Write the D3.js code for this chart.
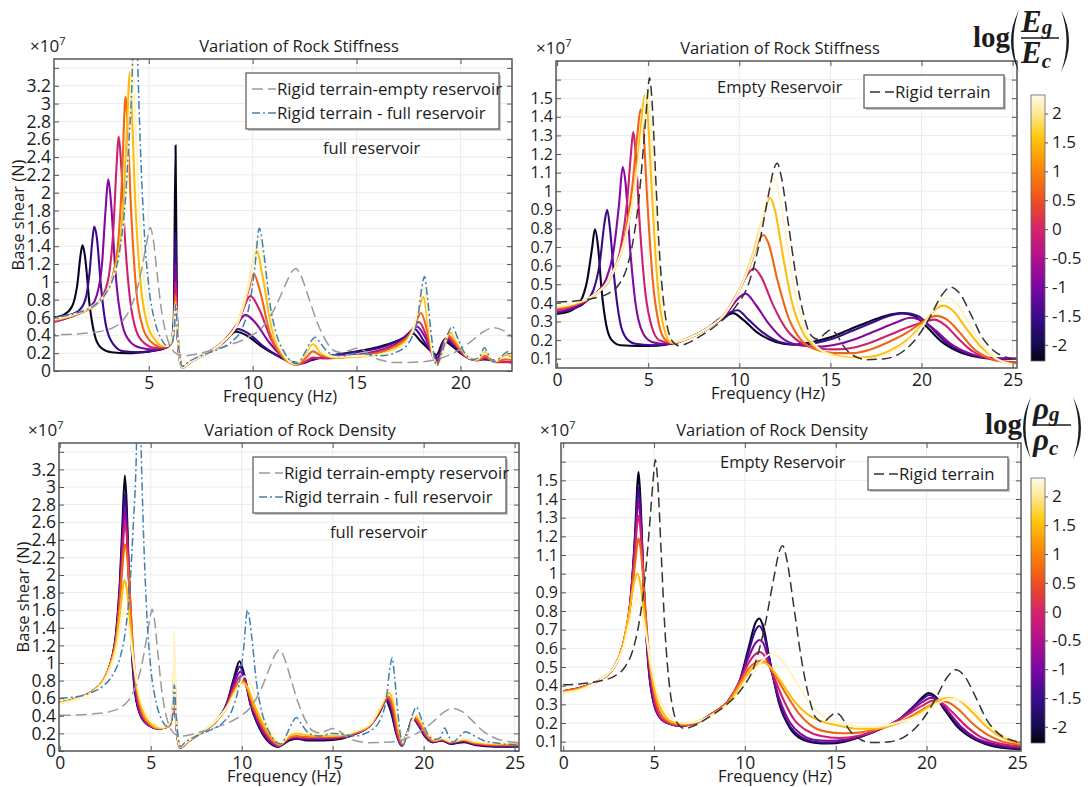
<!DOCTYPE html>
<meta charset="utf-8">
<style>
body { margin: 0; background: #fff; font-family: "Open Sans", sans-serif; }
text { fill: #1c1c1c; }
.tick line { stroke: #555; }
.domain { display: none; }
</style>
<body>
<svg width="1090" height="787"></svg>
<script src="https://d3js.org/d3.v7.min.js"></script>
<script>

// colour levels of the coloured curves (log of the ratio)
var levels = [-2.2, -1.5, -0.9, -0.1, 0.7, 1.5, 2.2];

// colour bar stops
var cbStops = [-2.28, -2.0, -1.5, -1.0, -0.5, 0.0, 0.4, 0.8, 1.2, 1.6, 2.0, 2.32];
var cbColors = ["#05030f", "#140a4e", "#3a0c8c", "#7a07a4", "#b0108e", "#d4246a",
                "#e8462c", "#f4700f", "#fb9a06", "#ffc910", "#fde896", "#fffbe8"];
var cbTicks = [-2, -1.5, -1, -0.5, 0, 0.5, 1, 1.5, 2];

var xTicksTop = [5, 10, 15, 20];
var xTicksAll = [0, 5, 10, 15, 20, 25];
var yTicksFull = [0, 0.2, 0.4, 0.6, 0.8, 1, 1.2, 1.4, 1.6, 1.8, 2, 2.2, 2.4, 2.6, 2.8, 3, 3.2, 3.4];
var yTicksEmpty = [0.1, 0.2, 0.3, 0.4, 0.5, 0.6, 0.7, 0.8, 0.9, 1, 1.1, 1.2, 1.3, 1.4, 1.5, 1.6];

// rigid terrain, empty reservoir  [Hz, x1e7 N]
var rigidEmpty = [[0,0.405],[1,0.41],[2,0.425],[2.8,0.45],[3.4,0.5],[3.8,0.58],[4.2,0.75],[4.5,0.97],[4.75,1.25],[4.95,1.5],[5.07,1.61],[5.2,1.5],[5.4,1.1],[5.6,0.7],[5.85,0.4],[6.1,0.25],[6.4,0.185],[6.7,0.17],[7.2,0.185],[8,0.23],[9,0.3],[9.8,0.38],[10.5,0.5],[11.1,0.72],[11.6,0.98],[11.9,1.12],[12.08,1.15],[12.3,1.08],[12.7,0.82],[13.1,0.55],[13.5,0.35],[13.9,0.23],[14.3,0.205],[14.7,0.235],[15,0.255],[15.3,0.235],[15.7,0.17],[16.2,0.12],[17,0.095],[18,0.1],[19,0.14],[19.8,0.22],[20.5,0.33],[21.1,0.44],[21.6,0.485],[22.1,0.45],[22.7,0.34],[23.3,0.22],[24,0.14],[24.6,0.11],[25.2,0.095]];

// rigid terrain, full reservoir
var rigidFull = [[0,0.6],[1,0.62],[1.8,0.67],[2.4,0.74],[2.9,0.86],[3.3,1.05],[3.6,1.35],[3.85,1.85],[4.05,2.6],[4.2,3.3],[4.32,4.6],[4.45,3.6],[4.6,2.5],[4.8,1.5],[5.0,0.95],[5.3,0.55],[5.6,0.36],[5.9,0.28],[6.1,0.3],[6.22,0.45],[6.3,0.75],[6.38,0.45],[6.5,0.15],[6.62,0.05],[6.9,0.1],[7.5,0.17],[8.3,0.24],[9,0.33],[9.5,0.48],[9.85,0.75],[10.1,1.15],[10.32,1.6],[10.55,1.3],[10.8,0.8],[11.1,0.45],[11.5,0.22],[11.9,0.1],[12.15,0.08],[12.5,0.2],[12.8,0.33],[13,0.38],[13.3,0.3],[13.7,0.2],[14.3,0.17],[15,0.2],[15.5,0.19],[16.2,0.17],[17,0.22],[17.6,0.35],[17.95,0.6],[18.15,0.95],[18.27,1.06],[18.4,0.85],[18.6,0.4],[18.85,0.06],[19.1,0.2],[19.4,0.42],[19.6,0.5],[19.85,0.38],[20.2,0.2],[20.6,0.13],[20.9,0.15],[21.15,0.26],[21.35,0.18],[21.6,0.1],[22,0.17],[22.3,0.22],[22.7,0.18],[23.3,0.12],[24,0.09],[25.2,0.07]];

// stiffness, full reservoir (one list per level)
var stiffFull = [
  [[0.4,0.6],[0.9,0.63],[1.3,0.72],[1.55,0.95],[1.75,1.35],[1.82,1.41],[1.95,1.25],[2.15,0.75],[2.4,0.4],[2.7,0.26],[3.2,0.21],[4,0.2],[5,0.22],[5.7,0.25],[6.05,0.3],[6.2,0.55],[6.29,2.53],[6.36,0.6],[6.5,0.12],[6.62,0.04],[7,0.1],[7.8,0.2],[8.6,0.32],[9.2,0.44],[9.7,0.4],[10.4,0.28],[11.2,0.17],[11.9,0.1],[12.3,0.09],[12.8,0.12],[13.5,0.16],[14.5,0.2],[15.5,0.24],[16.5,0.3],[17.3,0.37],[17.7,0.42],[18.1,0.33],[18.5,0.24],[18.85,0.18],[19.2,0.34],[19.5,0.3],[20,0.2],[20.6,0.13],[21.2,0.13],[21.7,0.11],[22.5,0.1]],
  [[0.4,0.6],[1,0.62],[1.6,0.67],[1.95,0.8],[2.15,1.1],[2.3,1.5],[2.38,1.62],[2.5,1.5],[2.7,0.95],[2.95,0.5],[3.3,0.3],[3.8,0.22],[4.6,0.21],[5.5,0.24],[6.05,0.3],[6.2,0.5],[6.29,1.55],[6.37,0.5],[6.5,0.12],[6.62,0.04],[7,0.1],[7.8,0.2],[8.6,0.33],[9.3,0.47],[9.8,0.42],[10.5,0.28],[11.3,0.16],[12,0.09],[12.4,0.09],[12.9,0.13],[13.5,0.16],[14.5,0.2],[15.5,0.23],[16.5,0.29],[17.3,0.38],[17.8,0.47],[18.2,0.35],[18.6,0.22],[18.9,0.15],[19.25,0.36],[19.6,0.3],[20.1,0.19],[20.7,0.13],[21.2,0.14],[21.7,0.11],[22.5,0.1]],
  [[0.4,0.55],[1,0.59],[1.7,0.65],[2.2,0.72],[2.5,0.85],[2.75,1.2],[2.92,1.8],[3.05,2.15],[3.18,1.9],[3.4,1.1],[3.7,0.55],[4.1,0.33],[4.6,0.26],[5.2,0.24],[5.8,0.26],[6.1,0.32],[6.22,0.5],[6.29,1.2],[6.37,0.5],[6.5,0.12],[6.62,0.04],[7,0.1],[7.8,0.2],[8.6,0.33],[9.2,0.5],[9.65,0.63],[10.1,0.55],[10.8,0.32],[11.5,0.15],[12.1,0.08],[12.5,0.09],[12.9,0.14],[13.5,0.15],[14.5,0.17],[15.5,0.2],[16.5,0.26],[17.3,0.36],[17.9,0.5],[18.3,0.38],[18.7,0.18],[18.9,0.12],[19.3,0.37],[19.7,0.3],[20.2,0.17],[20.8,0.12],[21.2,0.14],[21.7,0.11],[22.5,0.1]],
  [[0.4,0.55],[1,0.59],[1.7,0.65],[2.3,0.72],[2.8,0.85],[3.1,1.1],[3.3,1.6],[3.45,2.3],[3.55,2.63],[3.65,2.4],[3.85,1.5],[4.1,0.8],[4.4,0.45],[4.8,0.31],[5.3,0.26],[5.8,0.26],[6.1,0.32],[6.22,0.5],[6.29,1.0],[6.37,0.5],[6.5,0.12],[6.62,0.04],[7,0.1],[7.8,0.2],[8.6,0.33],[9.3,0.55],[9.9,0.84],[10.3,0.7],[10.9,0.35],[11.5,0.15],[12.1,0.07],[12.5,0.1],[12.9,0.15],[13.4,0.14],[14.5,0.16],[15.5,0.19],[16.5,0.25],[17.4,0.36],[18,0.55],[18.35,0.4],[18.7,0.15],[18.9,0.1],[19.35,0.38],[19.8,0.28],[20.3,0.16],[20.8,0.12],[21.2,0.15],[21.7,0.1],[22.5,0.1]],
  [[0.4,0.56],[1,0.6],[1.7,0.65],[2.3,0.72],[2.9,0.86],[3.3,1.1],[3.55,1.5],[3.72,2.2],[3.83,2.9],[3.88,3.08],[3.95,2.9],[4.15,1.8],[4.4,0.9],[4.7,0.5],[5.1,0.33],[5.6,0.27],[6,0.29],[6.2,0.45],[6.29,0.85],[6.37,0.5],[6.5,0.12],[6.62,0.04],[7,0.1],[7.8,0.2],[8.6,0.33],[9.3,0.55],[9.8,0.9],[10.05,1.09],[10.35,0.9],[10.8,0.45],[11.4,0.17],[12.1,0.07],[12.5,0.13],[12.9,0.22],[13.3,0.17],[14,0.15],[15,0.17],[16,0.2],[17,0.3],[17.7,0.45],[18.1,0.65],[18.4,0.45],[18.7,0.15],[18.9,0.09],[19.4,0.4],[19.8,0.3],[20.3,0.16],[20.8,0.12],[21.2,0.17],[21.6,0.1],[22.2,0.13],[22.5,0.12]],
  [[0.4,0.57],[1,0.6],[1.7,0.65],[2.3,0.72],[2.9,0.86],[3.3,1.08],[3.65,1.5],[3.85,2.2],[4.0,3.0],[4.08,3.35],[4.15,3.1],[4.35,1.9],[4.6,1.0],[4.9,0.55],[5.3,0.35],[5.7,0.28],[6,0.29],[6.2,0.45],[6.29,0.78],[6.37,0.5],[6.5,0.12],[6.62,0.04],[7,0.1],[7.8,0.2],[8.6,0.33],[9.3,0.55],[9.8,0.95],[10.2,1.35],[10.45,1.1],[10.9,0.5],[11.4,0.2],[12.1,0.07],[12.5,0.17],[12.9,0.3],[13.3,0.2],[14,0.15],[15,0.16],[16,0.18],[17,0.27],[17.7,0.45],[18.1,0.78],[18.22,0.83],[18.45,0.5],[18.7,0.15],[18.9,0.07],[19.5,0.43],[19.9,0.3],[20.4,0.15],[20.8,0.13],[21.2,0.22],[21.6,0.1],[22.2,0.18],[22.5,0.15]],
  [[0.4,0.58],[1,0.61],[1.7,0.66],[2.3,0.73],[2.9,0.86],[3.3,1.06],[3.7,1.45],[3.95,2.1],[4.12,3.0],[4.22,3.6],[4.32,3.0],[4.5,2.0],[4.75,1.1],[5.1,0.55],[5.5,0.33],[5.9,0.28],[6.2,0.45],[6.29,0.75],[6.37,0.5],[6.5,0.12],[6.62,0.04],[7,0.1],[7.8,0.2],[8.6,0.33],[9.3,0.55],[9.9,1.05],[10.3,1.5],[10.55,1.2],[10.9,0.6],[11.4,0.22],[12.1,0.08],[12.5,0.19],[12.95,0.35],[13.3,0.22],[14,0.16],[15,0.17],[16,0.18],[17,0.25],[17.7,0.45],[18.1,0.85],[18.25,0.95],[18.45,0.6],[18.7,0.15],[18.9,0.06],[19.5,0.46],[19.9,0.32],[20.4,0.15],[20.8,0.13],[21.2,0.24],[21.6,0.1],[22.2,0.2],[22.5,0.18]]
];

// stiffness, empty reservoir
var stiffEmpty = [
  [[0,0.34],[0.8,0.36],[1.3,0.41],[1.65,0.52],[1.9,0.68],[2.08,0.795],[2.25,0.7],[2.45,0.46],[2.7,0.28],[3.0,0.2],[3.5,0.172],[4.5,0.168],[5.5,0.17],[6.3,0.182],[7.2,0.21],[8.2,0.26],[9,0.31],[9.65,0.345],[10.2,0.31],[11,0.24],[12,0.19],[13,0.175],[14,0.19],[15,0.215],[16,0.255],[17,0.295],[18,0.33],[18.9,0.345],[19.6,0.33],[20.3,0.27],[21,0.2],[22,0.14],[23,0.11],[24,0.1],[25.2,0.1]],
  [[0,0.345],[0.8,0.365],[1.5,0.4],[2.0,0.47],[2.35,0.62],[2.6,0.83],[2.75,0.9],[2.9,0.8],[3.15,0.52],[3.45,0.3],[3.8,0.21],[4.3,0.18],[5.2,0.172],[6.3,0.182],[7.2,0.21],[8.2,0.26],[9,0.32],[9.9,0.36],[10.5,0.31],[11.3,0.24],[12.2,0.19],[13.2,0.175],[14.2,0.185],[15.2,0.21],[16.2,0.25],[17.2,0.29],[18.2,0.33],[19.1,0.345],[19.8,0.33],[20.5,0.27],[21.2,0.2],[22.2,0.14],[23.2,0.11],[24.2,0.1],[25.2,0.1]],
  [[0,0.35],[1,0.38],[2,0.44],[2.7,0.53],[3.1,0.68],[3.4,0.93],[3.6,1.13],[3.75,1.05],[4.0,0.7],[4.3,0.4],[4.7,0.24],[5.2,0.19],[5.8,0.18],[6.3,0.182],[7.2,0.21],[8.2,0.26],[9.2,0.33],[9.9,0.42],[10.35,0.45],[10.9,0.39],[11.6,0.29],[12.5,0.2],[13.5,0.17],[14.5,0.165],[15.5,0.18],[16.5,0.21],[17.5,0.25],[18.5,0.29],[19.4,0.32],[20.1,0.3],[20.8,0.25],[21.6,0.18],[22.6,0.13],[23.6,0.105],[25.2,0.1]],
  [[0,0.36],[1,0.39],[2,0.44],[3,0.55],[3.5,0.7],[3.85,0.95],[4.05,1.2],[4.18,1.32],[4.3,1.22],[4.55,0.8],[4.85,0.45],[5.2,0.27],[5.6,0.2],[6.3,0.183],[7.2,0.21],[8.2,0.26],[9.2,0.34],[10,0.47],[10.5,0.56],[10.8,0.585],[11.2,0.54],[11.8,0.4],[12.5,0.27],[13.3,0.19],[14.3,0.155],[15.3,0.15],[16.3,0.16],[17.3,0.19],[18.3,0.23],[19.3,0.27],[20.2,0.3],[20.7,0.31],[21.3,0.28],[22,0.21],[22.8,0.14],[23.7,0.1],[25.2,0.08]],
  [[0,0.37],[1,0.39],[2,0.44],[3,0.55],[3.7,0.75],[4.1,1.0],[4.4,1.3],[4.58,1.44],[4.7,1.38],[4.95,0.95],[5.25,0.52],[5.6,0.28],[5.95,0.2],[6.3,0.183],[7.2,0.21],[8.2,0.26],[9.2,0.34],[10,0.47],[10.7,0.63],[11.1,0.74],[11.33,0.765],[11.6,0.72],[12.1,0.52],[12.7,0.32],[13.4,0.2],[14.2,0.15],[15.2,0.13],[16.2,0.13],[17.2,0.15],[18.2,0.19],[19.2,0.24],[20.1,0.3],[20.8,0.33],[21.4,0.31],[22.1,0.24],[22.9,0.15],[23.8,0.1],[25.2,0.075]],
  [[0,0.375],[1,0.395],[2,0.44],[3,0.55],[3.8,0.77],[4.3,1.05],[4.6,1.35],[4.81,1.515],[4.95,1.44],[5.2,1.0],[5.5,0.52],[5.85,0.27],[6.3,0.185],[7.2,0.21],[8.2,0.26],[9.2,0.34],[10,0.47],[10.8,0.68],[11.3,0.86],[11.69,0.965],[11.95,0.9],[12.4,0.65],[12.9,0.4],[13.5,0.24],[14.2,0.16],[15.2,0.12],[16.2,0.105],[17.2,0.11],[18.2,0.14],[19.2,0.2],[20.1,0.29],[20.7,0.36],[21.2,0.385],[21.7,0.36],[22.4,0.27],[23.2,0.17],[24.1,0.1],[25.2,0.065]],
  [[0,0.38],[1,0.4],[2,0.44],[3,0.55],[3.8,0.77],[4.4,1.1],[4.75,1.4],[4.95,1.55],[5.08,1.48],[5.35,1.0],[5.65,0.52],[6.0,0.26],[6.35,0.19],[7.2,0.21],[8.2,0.26],[9.2,0.34],[10,0.47],[10.9,0.7],[11.5,0.95],[11.88,1.07],[12.15,1.0],[12.6,0.72],[13.1,0.44],[13.6,0.26],[14.3,0.16],[15.2,0.115],[16.2,0.1],[17.2,0.1],[18.2,0.13],[19.2,0.19],[20.1,0.28],[20.8,0.38],[21.4,0.425],[21.9,0.4],[22.6,0.29],[23.3,0.18],[24.1,0.1],[25.2,0.065]]
];

// density, full reservoir
var densFull = [
  [[0,0.55],[1,0.6],[1.8,0.68],[2.4,0.8],[2.8,1.0],[3.1,1.35],[3.3,1.9],[3.45,2.6],[3.58,3.13],[3.68,2.8],[3.8,2.0],[3.95,1.2],[4.15,0.65],[4.5,0.38],[4.9,0.29],[5.4,0.255],[5.85,0.27],[6.1,0.33],[6.22,0.5],[6.3,0.7],[6.38,0.4],[6.5,0.12],[6.62,0.04],[7,0.1],[7.7,0.2],[8.5,0.32],[9.2,0.55],[9.6,0.85],[9.88,1.02],[10.1,0.9],[10.5,0.52],[11.0,0.25],[11.5,0.1],[12.0,0.05],[12.6,0.12],[13,0.14],[13.6,0.12],[14.5,0.12],[15.5,0.14],[16.3,0.2],[17.1,0.3],[17.6,0.45],[17.9,0.58],[18.2,0.45],[18.5,0.2],[18.8,0.06],[19.1,0.2],[19.4,0.37],[19.7,0.3],[20.1,0.16],[20.5,0.1],[21,0.12],[21.5,0.08],[22.2,0.1],[22.8,0.07],[24,0.05],[25.2,0.05]],
  [[0,0.55],[1,0.6],[1.8,0.68],[2.4,0.8],[2.8,1.0],[3.1,1.33],[3.3,1.85],[3.45,2.45],[3.58,2.92],[3.68,2.65],[3.8,1.95],[3.95,1.2],[4.15,0.66],[4.5,0.38],[4.9,0.29],[5.4,0.255],[5.85,0.27],[6.1,0.33],[6.22,0.5],[6.3,0.72],[6.38,0.4],[6.5,0.12],[6.62,0.04],[7,0.1],[7.7,0.2],[8.5,0.32],[9.2,0.54],[9.6,0.82],[9.9,0.96],[10.12,0.86],[10.5,0.52],[11.0,0.26],[11.5,0.11],[12.0,0.05],[12.6,0.13],[13,0.145],[13.6,0.13],[14.5,0.13],[15.5,0.15],[16.3,0.2],[17.1,0.3],[17.6,0.45],[17.95,0.58],[18.25,0.45],[18.5,0.2],[18.8,0.06],[19.1,0.2],[19.4,0.37],[19.7,0.3],[20.1,0.16],[20.5,0.1],[21,0.12],[21.5,0.085],[22.2,0.11],[22.8,0.075],[24,0.055],[25.2,0.055]],
  [[0,0.55],[1,0.6],[1.8,0.68],[2.4,0.8],[2.8,1.0],[3.1,1.3],[3.3,1.8],[3.45,2.35],[3.58,2.75],[3.69,2.5],[3.82,1.9],[3.97,1.2],[4.17,0.67],[4.5,0.39],[4.9,0.29],[5.4,0.255],[5.85,0.27],[6.1,0.33],[6.22,0.5],[6.3,0.75],[6.38,0.4],[6.5,0.12],[6.62,0.04],[7,0.1],[7.7,0.2],[8.5,0.32],[9.2,0.53],[9.6,0.78],[9.92,0.9],[10.15,0.82],[10.55,0.52],[11.05,0.27],[11.55,0.11],[12.0,0.055],[12.6,0.14],[13,0.15],[13.6,0.14],[14.5,0.14],[15.5,0.155],[16.3,0.2],[17.1,0.3],[17.6,0.46],[18.0,0.59],[18.3,0.45],[18.55,0.2],[18.8,0.065],[19.1,0.2],[19.45,0.37],[19.75,0.3],[20.15,0.16],[20.5,0.11],[21,0.125],[21.5,0.09],[22.2,0.115],[22.8,0.08],[24,0.06],[25.2,0.06]],
  [[0,0.55],[1,0.6],[1.8,0.68],[2.4,0.8],[2.8,1.0],[3.1,1.28],[3.3,1.75],[3.45,2.25],[3.58,2.6],[3.7,2.4],[3.84,1.85],[4.0,1.2],[4.2,0.68],[4.55,0.39],[4.95,0.29],[5.4,0.255],[5.85,0.27],[6.1,0.33],[6.22,0.5],[6.3,0.8],[6.38,0.4],[6.5,0.12],[6.62,0.04],[7,0.1],[7.7,0.2],[8.5,0.32],[9.2,0.52],[9.6,0.74],[9.95,0.85],[10.2,0.78],[10.6,0.5],[11.1,0.27],[11.6,0.12],[12.05,0.06],[12.6,0.145],[13,0.16],[13.6,0.15],[14.5,0.15],[15.5,0.16],[16.3,0.21],[17.1,0.3],[17.6,0.46],[18.0,0.6],[18.3,0.47],[18.55,0.2],[18.8,0.07],[19.1,0.2],[19.45,0.37],[19.75,0.31],[20.15,0.17],[20.5,0.11],[21,0.13],[21.5,0.095],[22.2,0.12],[22.8,0.085],[24,0.065],[25.2,0.065]],
  [[0,0.55],[1,0.6],[1.8,0.68],[2.4,0.8],[2.8,1.0],[3.1,1.27],[3.3,1.68],[3.45,2.1],[3.58,2.35],[3.71,2.2],[3.86,1.75],[4.03,1.15],[4.25,0.68],[4.6,0.4],[5.0,0.3],[5.45,0.26],[5.85,0.27],[6.1,0.34],[6.22,0.52],[6.3,0.9],[6.38,0.42],[6.5,0.12],[6.62,0.04],[7,0.1],[7.7,0.2],[8.5,0.32],[9.2,0.51],[9.6,0.7],[9.98,0.8],[10.25,0.74],[10.65,0.5],[11.15,0.28],[11.65,0.13],[12.05,0.065],[12.6,0.15],[13,0.17],[13.6,0.16],[14.5,0.16],[15.5,0.17],[16.3,0.21],[17.1,0.3],[17.6,0.47],[18.05,0.62],[18.35,0.48],[18.6,0.2],[18.82,0.08],[19.1,0.2],[19.5,0.38],[19.8,0.31],[20.2,0.17],[20.55,0.115],[21,0.135],[21.5,0.1],[22.2,0.125],[22.8,0.09],[24,0.07],[25.2,0.07]],
  [[0,0.55],[1,0.6],[1.8,0.68],[2.4,0.8],[2.8,0.98],[3.1,1.22],[3.3,1.55],[3.45,1.82],[3.55,1.94],[3.68,1.85],[3.85,1.5],[4.05,1.05],[4.3,0.66],[4.65,0.41],[5.05,0.3],[5.5,0.26],[5.85,0.27],[6.1,0.35],[6.22,0.55],[6.3,1.05],[6.38,0.45],[6.5,0.13],[6.62,0.045],[7,0.1],[7.7,0.2],[8.5,0.32],[9.2,0.5],[9.6,0.67],[10.0,0.78],[10.3,0.73],[10.7,0.52],[11.2,0.3],[11.7,0.14],[12.1,0.075],[12.6,0.17],[13,0.2],[13.6,0.18],[14.5,0.17],[15.5,0.18],[16.3,0.22],[17.1,0.31],[17.6,0.48],[18.1,0.66],[18.4,0.5],[18.65,0.22],[18.85,0.09],[19.15,0.22],[19.55,0.4],[19.85,0.33],[20.25,0.18],[20.6,0.12],[21,0.14],[21.5,0.105],[22.2,0.13],[22.8,0.1],[24,0.08],[25.2,0.08]],
  [[0,0.54],[1,0.59],[1.8,0.67],[2.4,0.78],[2.8,0.95],[3.1,1.15],[3.3,1.38],[3.45,1.55],[3.55,1.6],[3.7,1.52],[3.9,1.25],[4.15,0.88],[4.45,0.58],[4.8,0.4],[5.2,0.31],[5.6,0.27],[5.95,0.3],[6.15,0.4],[6.24,0.65],[6.3,1.35],[6.38,0.5],[6.5,0.14],[6.62,0.05],[7,0.11],[7.7,0.21],[8.5,0.33],[9.2,0.5],[9.7,0.68],[10.15,0.85],[10.45,0.78],[10.85,0.55],[11.35,0.32],[11.8,0.16],[12.15,0.09],[12.6,0.19],[13,0.22],[13.6,0.2],[14.5,0.19],[15.5,0.19],[16.3,0.23],[17.1,0.32],[17.6,0.5],[18.15,0.7],[18.45,0.52],[18.7,0.23],[18.88,0.1],[19.2,0.24],[19.6,0.42],[19.9,0.34],[20.3,0.19],[20.65,0.13],[21,0.15],[21.5,0.11],[22.2,0.14],[22.8,0.11],[24,0.09],[25.2,0.1]]
];

// density, empty reservoir
var densEmpty = [
  [[0,0.37],[1,0.39],[2,0.43],[2.8,0.5],[3.3,0.62],[3.7,0.85],[3.95,1.2],[4.1,1.5],[4.15,1.545],[4.25,1.4],[4.45,0.9],[4.7,0.5],[5.0,0.3],[5.4,0.22],[5.9,0.195],[6.5,0.185],[7.3,0.2],[8.2,0.25],[9.1,0.32],[9.7,0.42],[10.2,0.6],[10.6,0.74],[10.8,0.76],[11.0,0.72],[11.4,0.52],[11.9,0.3],[12.5,0.17],[13.1,0.115],[13.8,0.095],[14.6,0.09],[15.5,0.1],[16.5,0.13],[17.5,0.17],[18.5,0.22],[19.3,0.29],[19.8,0.34],[20.1,0.36],[20.5,0.34],[21,0.27],[21.7,0.18],[22.5,0.12],[23.5,0.08],[24.4,0.065],[25.2,0.06]],
  [[0,0.37],[1,0.39],[2,0.43],[2.8,0.5],[3.3,0.62],[3.7,0.85],[3.95,1.18],[4.1,1.42],[4.15,1.46],[4.25,1.34],[4.45,0.9],[4.7,0.5],[5.0,0.3],[5.4,0.22],[5.9,0.195],[6.5,0.185],[7.3,0.2],[8.2,0.25],[9.1,0.32],[9.7,0.42],[10.2,0.58],[10.6,0.7],[10.8,0.72],[11.0,0.69],[11.4,0.52],[11.9,0.31],[12.5,0.18],[13.1,0.125],[13.8,0.1],[14.6,0.095],[15.5,0.105],[16.5,0.13],[17.5,0.17],[18.5,0.22],[19.3,0.29],[19.8,0.33],[20.15,0.35],[20.55,0.33],[21.1,0.27],[21.8,0.18],[22.6,0.12],[23.5,0.085],[24.4,0.07],[25.2,0.065]],
  [[0,0.37],[1,0.39],[2,0.43],[2.8,0.5],[3.3,0.62],[3.7,0.85],[3.95,1.15],[4.1,1.36],[4.15,1.39],[4.25,1.3],[4.45,0.9],[4.7,0.52],[5.0,0.31],[5.4,0.22],[5.9,0.195],[6.5,0.185],[7.3,0.2],[8.2,0.25],[9.1,0.32],[9.7,0.42],[10.2,0.55],[10.6,0.63],[10.8,0.645],[11.0,0.63],[11.4,0.5],[11.9,0.33],[12.5,0.2],[13.1,0.14],[13.8,0.11],[14.6,0.105],[15.5,0.11],[16.5,0.135],[17.5,0.17],[18.5,0.22],[19.3,0.28],[19.9,0.32],[20.25,0.335],[20.65,0.32],[21.2,0.26],[21.9,0.18],[22.7,0.12],[23.6,0.09],[24.5,0.075],[25.2,0.07]],
  [[0,0.37],[1,0.39],[2,0.43],[2.8,0.5],[3.3,0.62],[3.7,0.85],[3.95,1.12],[4.1,1.29],[4.15,1.31],[4.27,1.22],[4.5,0.85],[4.75,0.5],[5.05,0.31],[5.45,0.22],[5.9,0.195],[6.5,0.185],[7.3,0.2],[8.2,0.25],[9.1,0.32],[9.7,0.42],[10.2,0.52],[10.6,0.57],[10.8,0.58],[11.05,0.565],[11.5,0.47],[12.1,0.33],[12.7,0.22],[13.4,0.16],[14.2,0.13],[15.2,0.12],[16.2,0.13],[17.2,0.16],[18.2,0.2],[19.2,0.26],[19.9,0.3],[20.35,0.32],[20.8,0.31],[21.4,0.26],[22.1,0.19],[22.9,0.13],[23.8,0.095],[24.6,0.08],[25.2,0.075]],
  [[0,0.37],[1,0.39],[2,0.43],[2.8,0.5],[3.3,0.62],[3.7,0.83],[3.95,1.05],[4.1,1.17],[4.15,1.19],[4.28,1.12],[4.52,0.8],[4.8,0.5],[5.1,0.32],[5.5,0.23],[5.95,0.2],[6.5,0.19],[7.3,0.2],[8.2,0.25],[9.1,0.32],[9.7,0.41],[10.2,0.49],[10.6,0.525],[10.9,0.535],[11.2,0.52],[11.7,0.45],[12.3,0.35],[12.9,0.26],[13.6,0.19],[14.4,0.155],[15.4,0.145],[16.4,0.15],[17.4,0.17],[18.4,0.2],[19.4,0.25],[20.1,0.29],[20.7,0.32],[21.2,0.31],[21.8,0.27],[22.5,0.2],[23.3,0.14],[24.2,0.1],[25.2,0.085]],
  [[0,0.365],[1,0.385],[2,0.43],[2.8,0.5],[3.3,0.62],[3.65,0.8],[3.9,0.95],[4.08,1.0],[4.22,0.96],[4.5,0.75],[4.8,0.5],[5.15,0.33],[5.6,0.24],[6.0,0.205],[6.6,0.195],[7.4,0.21],[8.3,0.25],[9.2,0.32],[9.8,0.41],[10.3,0.48],[10.7,0.515],[11.0,0.525],[11.4,0.5],[12,0.42],[12.7,0.32],[13.4,0.25],[14.2,0.21],[15.2,0.185],[16.2,0.17],[17.2,0.17],[18.2,0.19],[19.2,0.23],[20,0.28],[20.6,0.32],[21.2,0.335],[21.8,0.32],[22.5,0.26],[23.3,0.18],[24.2,0.12],[25.2,0.09]],
  [[0,0.36],[1,0.38],[2,0.43],[2.8,0.5],[3.3,0.6],[3.65,0.74],[3.9,0.84],[4.05,0.87],[4.25,0.83],[4.55,0.68],[4.9,0.48],[5.3,0.33],[5.75,0.25],[6.2,0.21],[6.8,0.2],[7.6,0.215],[8.5,0.26],[9.4,0.33],[10.1,0.42],[10.7,0.5],[11.1,0.55],[11.45,0.57],[11.9,0.55],[12.5,0.47],[13.2,0.36],[13.9,0.27],[14.6,0.22],[15.4,0.195],[16.3,0.18],[17.3,0.18],[18.3,0.2],[19.3,0.23],[20.1,0.27],[20.7,0.31],[21.3,0.33],[21.9,0.32],[22.6,0.27],[23.4,0.19],[24.3,0.13],[25.2,0.1]]
];

var svg = d3.select("svg");
var color = d3.scaleLinear().domain(cbStops).range(cbColors).interpolate(d3.interpolateRgb);

var panels = [
  {id: "a", left: 54, right: 512, top: 59, bottom: 371, xDomain: [0.44, 22.48], yDomain: [0, 3.5],
   xTicks: xTicksTop, yTicks: yTicksFull, hide: 3.4, curves: stiffFull, full: true,
   title: "Variation of Rock Stiffness", titleX: 299, xLabX: 280, expX: 30,
   note: "full reservoir", noteX: 323, noteY: 154, yLabel: true, ySize: 17.5},
  {id: "b", left: 556, right: 1017, top: 61, bottom: 368, xDomain: [-0.06, 25.24], yDomain: [0.05, 1.7],
   xTicks: xTicksAll, yTicks: yTicksEmpty, hide: 1.6, curves: stiffEmpty, full: false,
   title: "Variation of Rock Stiffness", titleX: 780, xLabX: 768, expX: 536,
   note: "Empty Reservoir", noteX: 717, noteY: 93, yLabel: false, ySize: 16},
  {id: "c", left: 59, right: 519, top: 443, bottom: 751, xDomain: [-0.04, 25.24], yDomain: [0, 3.5],
   xTicks: xTicksAll, yTicks: yTicksFull, hide: 3.4, curves: densFull, full: true,
   title: "Variation of Rock Density", titleX: 300, xLabX: 284, expX: 28,
   note: "full reservoir", noteX: 330, noteY: 538, yLabel: true, ySize: 17.5},
  {id: "d", left: 561, right: 1021, top: 443, bottom: 751, xDomain: [-0.12, 25.2], yDomain: [0.05, 1.7],
   xTicks: xTicksAll, yTicks: yTicksEmpty, hide: 1.6, curves: densEmpty, full: false,
   title: "Variation of Rock Density", titleX: 772, xLabX: 775, expX: 540,
   note: "Empty Reservoir", noteX: 720, noteY: 468, yLabel: false, ySize: 16}
];

var fmt = function(d) { return String(+d.toFixed(1)); };

panels.forEach(function(p) {
  var w = p.right - p.left, h = p.bottom - p.top;
  var x = d3.scaleLinear().domain(p.xDomain).range([0, w]);
  var y = d3.scaleLinear().domain(p.yDomain).range([h, 0]);
  var g = svg.append("g").attr("transform", "translate(" + p.left + "," + p.top + ")");

  // grid
  g.append("g").selectAll("line").data(p.yTicks).join("line")
    .attr("x1", 0).attr("x2", w).attr("y1", y).attr("y2", y)
    .attr("stroke", "#ececec");
  g.append("g").selectAll("line").data(p.xTicks).join("line")
    .attr("y1", 0).attr("y2", h).attr("x1", x).attr("x2", x)
    .attr("stroke", "#ececec");

  g.append("clipPath").attr("id", "clip" + p.id)
    .append("rect").attr("width", w).attr("height", h);

  var line = d3.line()
    .x(function(d) { return x(d[0]); })
    .y(function(d) { return y(d[1]); })
    .curve(d3.curveMonotoneX);

  var plot = g.append("g").attr("clip-path", "url(#clip" + p.id + ")");

  p.curves.forEach(function(c, i) {
    plot.append("path").attr("d", line(c))
      .attr("fill", "none")
      .attr("stroke", color(levels[i]))
      .attr("stroke-width", 2.1);
  });

  if (p.full) {
    plot.append("path").attr("d", line(rigidEmpty))
      .attr("fill", "none").attr("stroke", "#9a9a9a")
      .attr("stroke-width", 1.5).attr("stroke-dasharray", "11,5");
    plot.append("path").attr("d", line(rigidFull))
      .attr("fill", "none").attr("stroke", "#3f80b4")
      .attr("stroke-width", 1.5).attr("stroke-dasharray", "8,3,2,3");
  } else {
    plot.append("path").attr("d", line(rigidEmpty))
      .attr("fill", "none").attr("stroke", "#333")
      .attr("stroke-width", 1.5).attr("stroke-dasharray", "10,5");
  }

  // axes
  g.append("g").attr("transform", "translate(0," + h + ")")
    .call(d3.axisBottom(x).tickValues(p.xTicks).tickSize(-5).tickPadding(6).tickFormat(d3.format("d")))
    .selectAll("text").style("font-size", "17.5px").style("font-family", "Open Sans");
  g.append("g")
    .call(d3.axisTop(x).tickValues(p.xTicks).tickSize(-5).tickFormat(""));
  g.append("g")
    .call(d3.axisLeft(y).tickValues(p.yTicks).tickSize(-5).tickPadding(3)
      .tickFormat(function(d) { return d === p.hide ? "" : fmt(d); }))
    .selectAll("text").style("font-size", p.ySize + "px").style("font-family", "Open Sans");
  g.append("g").attr("transform", "translate(" + w + ",0)")
    .call(d3.axisRight(y).tickValues(p.yTicks).tickSize(-5).tickFormat(""));

  g.append("rect").attr("width", w).attr("height", h)
    .attr("fill", "none").attr("stroke", "#555").attr("stroke-width", 1.5);

  // title and labels
  svg.append("text").attr("x", p.titleX).attr("y", p.top - 7)
    .attr("text-anchor", "middle").style("font-size", "16.5px").text(p.title);
  var ex = svg.append("text").attr("x", p.expX).attr("y", p.top - 7).style("font-size", "17px");
  ex.append("tspan").text("×10");
  ex.append("tspan").attr("dy", -7).style("font-size", "11px").text("7");
  svg.append("text").attr("x", p.xLabX).attr("y", p.bottom + 31)
    .attr("text-anchor", "middle").style("font-size", "16.5px").text("Frequency (Hz)");
  if (p.yLabel) {
    svg.append("text")
      .attr("transform", "translate(" + (p.left - 30) + "," + (p.top + h / 2) + ") rotate(-90)")
      .attr("text-anchor", "middle").style("font-size", "16.5px").text("Base shear (N)");
  }
  svg.append("text").attr("x", p.noteX).attr("y", p.noteY)
    .style("font-size", "16.5px").text(p.note);

  // legend
  var items = p.full
    ? [{t: "Rigid terrain-empty reservoir", c: "#9a9a9a", d: "11,5"},
       {t: "Rigid terrain - full reservoir", c: "#3f80b4", d: "8,3,2,3"}]
    : [{t: "Rigid terrain", c: "#333", d: "10,5"}];
  var lw = p.full ? 253 : 140, lh = p.full ? 56 : 33;
  var lx = p.right - 13 - lw, ly = p.top + 14;
  svg.append("rect").attr("x", lx + 2).attr("y", ly + 2).attr("width", lw).attr("height", lh)
    .attr("fill", "#c8c8c8");
  svg.append("rect").attr("x", lx).attr("y", ly).attr("width", lw).attr("height", lh)
    .attr("fill", "#fff").attr("stroke", "#555").attr("stroke-width", 1.2);
  items.forEach(function(it, i) {
    var cy = ly + (p.full ? 16 + i * 24 : 17);
    svg.append("line").attr("x1", lx + 6).attr("x2", lx + 30).attr("y1", cy).attr("y2", cy)
      .attr("stroke", it.c).attr("stroke-width", 1.5).attr("stroke-dasharray", it.d);
    svg.append("text").attr("x", lx + 31).attr("y", cy + 6)
      .style("font-size", "16.8px").text(it.t);
  });
});

// colour bars
[{top: 95, bottom: 361}, {top: 478, bottom: 743}].forEach(function(b, k) {
  var cb = d3.scaleLinear().domain([-2.28, 2.32]).range([b.bottom, b.top]);
  var grad = svg.append("defs").append("linearGradient").attr("id", "grad" + k)
    .attr("x1", 0).attr("x2", 0).attr("y1", 1).attr("y2", 0);
  cbStops.forEach(function(s, i) {
    grad.append("stop").attr("offset", (s + 2.28) / 4.6).attr("stop-color", cbColors[i]);
  });
  svg.append("rect").attr("x", 1031).attr("y", b.top).attr("width", 14)
    .attr("height", b.bottom - b.top).attr("fill", "url(#grad" + k + ")")
    .attr("stroke", "#666").attr("stroke-width", 0.8);
  svg.append("g").attr("transform", "translate(1045,0)")
    .call(d3.axisRight(cb).tickValues(cbTicks).tickSize(3).tickPadding(4).tickFormat(function(d) { return String(d); }))
    .selectAll("text").style("font-size", "17px").style("font-family", "Open Sans");
});

// colour bar titles: log(Eg/Ec) and log(rho_g/rho_c)
function ratioLabel(dx, dy, sym) {
  var gl = svg.append("g").attr("transform", "translate(" + dx + "," + dy + ")")
    .style("font-family", "Liberation Serif").style("font-weight", "bold");
  gl.append("text").attr("x", 973).attr("y", 47).style("font-size", "29px").text("log");
  // tall thin parentheses
  gl.append("path").attr("d", "M1019,10 Q1003,41 1019,72 Q1008,41 1019,10Z").attr("fill", "#1c1c1c");
  gl.append("path").attr("d", "M1061,10 Q1077,41 1061,72 Q1072,41 1061,10Z").attr("fill", "#1c1c1c");
  var t1 = gl.append("text").attr("x", 1021).attr("y", 32).style("font-size", "31px").style("font-style", "italic");
  t1.append("tspan").text(sym);
  t1.append("tspan").attr("dy", 2).style("font-size", "21px").text("g");
  var t2 = gl.append("text").attr("x", 1021).attr("y", 63).style("font-size", "31px").style("font-style", "italic");
  t2.append("tspan").text(sym);
  t2.append("tspan").attr("dy", 5).style("font-size", "21px").text("c");
  gl.append("line").attr("x1", 1021).attr("x2", 1059).attr("y1", 38).attr("y2", 38)
    .attr("stroke", "#1c1c1c").attr("stroke-width", 1.6);
}
ratioLabel(0, 0, "E");
ratioLabel(12, 387, "ρ");

</script>
